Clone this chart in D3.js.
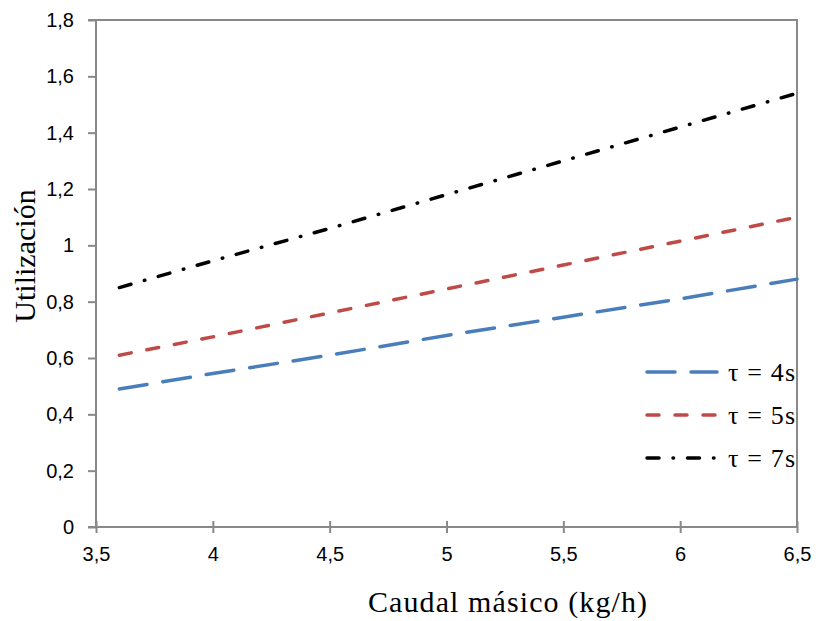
<!DOCTYPE html>
<html>
<head>
<meta charset="utf-8">
<script src="https://cdn.jsdelivr.net/npm/d3@7"></script>
<style>
  body { margin: 0; background: #fff; }
</style>
</head>
<body>
<div id="chart"></div>
<script>
var caudal = [3.6, 4, 4.5, 5, 5.5, 6, 6.5];
var tau4 = [0.49, 0.545, 0.61, 0.68, 0.745, 0.81, 0.88];
var tau5 = [0.61, 0.675, 0.76, 0.845, 0.93, 1.015, 1.10];
var tau7 = [0.85, 0.945, 1.06, 1.18, 1.30, 1.42, 1.54];
var seriesNames = ['\u03c4 = 4s', '\u03c4 = 5s', '\u03c4 = 7s'];
var xTicks = [3.5, 4, 4.5, 5, 5.5, 6, 6.5];
var yTicks = [0, 0.2, 0.4, 0.6, 0.8, 1, 1.2, 1.4, 1.6, 1.8];

var width = 818, height = 621,
    margin = {left: 96, right: 21, top: 20, bottom: 94},
    serif = '"Liberation Serif", "Times New Roman", serif',
    sans = '"Liberation Sans", Arial, sans-serif';

var svg = d3.select('#chart').append('svg')
    .attr('width', width)
    .attr('height', height);

var x = d3.scaleLinear().domain([3.5, 6.5]).range([margin.left, width - margin.right]),
    y = d3.scaleLinear().domain([0, 1.8]).range([height - margin.bottom, margin.top]);

var fmt = function(d) { return String(d).replace('.', ','); };
var axisColor = '#898989';

// plot frame (top and right)
svg.append('path')
    .attr('d', 'M' + x(3.5) + ' ' + y(1.8) + 'H' + x(6.5) + 'V' + y(0))
    .attr('fill', 'none')
    .attr('stroke', axisColor)
    .attr('stroke-width', 2);

var yAxis = svg.append('g')
    .attr('transform', 'translate(' + margin.left + ',0)')
    .call(d3.axisLeft(y).tickValues(yTicks).tickFormat(fmt).tickSize(8).tickPadding(14));

var xAxis = svg.append('g')
    .attr('transform', 'translate(0,' + y(0) + ')')
    .call(d3.axisBottom(x).tickValues(xTicks).tickFormat(fmt).tickSize(6).tickPadding(14));

[yAxis, xAxis].forEach(function(g) {
    g.attr('font-family', sans).attr('font-size', 20);
    g.selectAll('.tick text').attr('fill', '#000');
    g.select('.domain').attr('stroke', axisColor).attr('stroke-width', 2);
    g.selectAll('.tick line').attr('stroke', axisColor).attr('stroke-width', 2);
});
xAxis.selectAll('.tick line').attr('y1', -6);
yAxis.select('.domain').attr('d', 'M' + (-8) + ',' + y(1.8) + 'H0V' + y(0) + 'H-8');
xAxis.select('.domain').attr('d', 'M' + x(3.5) + ',0H' + x(6.5));

var series = [
    {name: seriesNames[0], values: tau4, color: '#4A7EBB', dash: '28,16'},
    {name: seriesNames[1], values: tau5, color: '#BE4B48', dash: '12,16'},
    {name: seriesNames[2], values: tau7, color: '#000000', dash: '12,14,0.5,14'}
];

var line = d3.line()
    .x(function(d) { return x(d[0]); })
    .y(function(d) { return y(d[1]); });

svg.selectAll('.series')
    .data(series)
    .enter()
    .append('path')
    .attr('class', 'series')
    .attr('fill', 'none')
    .attr('stroke', function(d) { return d.color; })
    .attr('stroke-width', 3.5)
    .attr('stroke-linecap', 'round')
    .attr('stroke-dasharray', function(d) { return d.dash; })
    .attr('d', function(d) { return line(d3.zip(caudal, d.values)); });

var legend = svg.append('g')
    .attr('font-family', serif)
    .attr('font-size', 26);

var rows = legend.selectAll('g')
    .data(series)
    .enter()
    .append('g')
    .attr('transform', function(d, i) { return 'translate(645,' + (372 + i * 43) + ')'; });

rows.append('line')
    .attr('x1', 2).attr('x2', 72)
    .attr('stroke', function(d) { return d.color; })
    .attr('stroke-width', 3.5)
    .attr('stroke-linecap', 'round')
    .attr('stroke-dasharray', function(d) { return d.dash; });

rows.append('text')
    .attr('x', 83)
    .attr('dy', '0.33em')
    .attr('fill', '#000')
    .attr('textLength', 67)
    .attr('lengthAdjust', 'spacing')
    .text(function(d) { return d.name; });

svg.append('text')
    .attr('font-family', serif)
    .attr('font-size', 30)
    .attr('x', 368)
    .attr('y', 612)
    .attr('textLength', 279)
    .attr('lengthAdjust', 'spacing')
    .text('Caudal másico (kg/h)');

svg.append('text')
    .attr('font-family', serif)
    .attr('font-size', 30)
    .attr('transform', 'translate(35,' + 256 + ') rotate(-90)')
    .attr('text-anchor', 'middle')
    .text('Utilización');
</script>
</body>
</html>
